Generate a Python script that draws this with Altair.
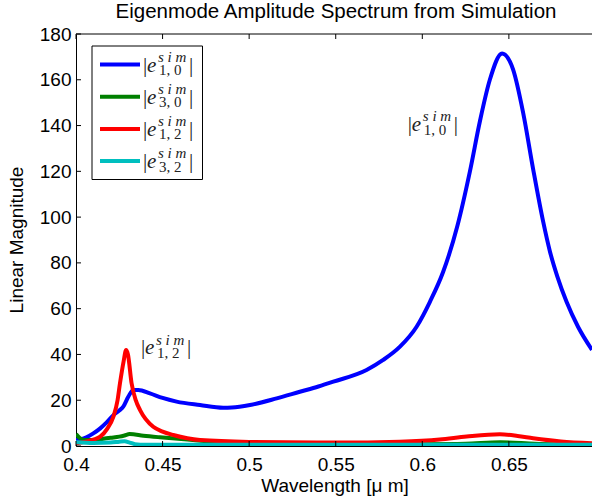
import altair as alt
import pandas as pd

# ---------------- data ----------------
blue_x = [0.400, 0.403, 0.406, 0.410, 0.414, 0.418, 0.4216, 0.425, 0.4273, 0.4302, 0.4331, 0.436,
          0.4427, 0.450, 0.4581, 0.4716, 0.485, 0.490, 0.5005, 0.5159, 0.5293, 0.540, 0.5486,
          0.5678, 0.5774, 0.5871, 0.5967, 0.6044, 0.612, 0.6202, 0.6275, 0.6333, 0.639, 0.6461,
          0.6525, 0.6583, 0.664, 0.6698, 0.6737, 0.678, 0.6833, 0.690, 0.698]
blue_y = [2.6, 3.0, 3.8, 5.5, 7.7, 10.5, 13.5, 15.5, 17.2, 21.5, 24.5, 24.5,
          23.0, 21.0, 19.4, 17.9, 16.7, 16.8, 17.9, 20.8, 23.7, 26.0, 28.1,
          33.2, 37.6, 43.4, 52.1, 63.0, 76.0, 96.0, 120.0, 142.0, 160.0, 171.5,
          164.3, 145.3, 121.0, 98.0, 85.0, 74.0, 63.0, 52.0, 42.0]

green_x = [0.400, 0.402, 0.405, 0.410, 0.415, 0.420, 0.425, 0.428, 0.431, 0.4389, 0.4485,
           0.4676, 0.490, 0.510, 0.550, 0.600, 0.625, 0.645, 0.665, 0.698]
green_y = [5.2, 3.6, 2.6, 2.6, 3.1, 3.6, 4.1, 4.6, 5.2, 4.5, 3.8,
           2.6, 1.3, 0.9, 0.7, 0.8, 1.0, 1.6, 1.0, 0.6]

red_x = [0.400, 0.405, 0.410, 0.414, 0.418, 0.4216, 0.424, 0.4254, 0.4275, 0.4289, 0.4300,
         0.4321, 0.4345, 0.437, 0.4446, 0.450, 0.4562, 0.4716, 0.500, 0.550, 0.587, 0.610,
         0.6256, 0.6448, 0.655, 0.664, 0.680, 0.698]
red_y = [1.2, 1.8, 2.8, 4.1, 7.5, 12.8, 20.0, 27.4, 37.0, 41.9, 40.0,
         27.4, 20.0, 15.7, 8.4, 6.3, 4.8, 2.6, 1.8, 1.5, 1.9, 2.8,
         4.1, 5.1, 4.4, 3.4, 2.0, 1.2]

cyan_x = [0.400, 0.410, 0.420, 0.425, 0.428, 0.431, 0.434, 0.440, 0.500, 0.600, 0.698]
cyan_y = [1.6, 1.3, 1.5, 1.9, 2.1, 1.5, 0.8, 0.5, 0.5, 0.5, 0.5]

series_names = ["1, 0", "3, 0", "1, 2", "3, 2"]
series_colors = ["#0000FF", "#008000", "#FF0000", "#00BFBF"]

x_ticks = [0.4, 0.45, 0.5, 0.55, 0.6, 0.65]
y_ticks = [0, 20, 40, 60, 80, 100, 120, 140, 160, 180]

# annotation anchors (data coordinates) and their subscripts
annot_x = [0.5928, 0.4387]
annot_y = [140.2, 42.6]
annot_sub = ["1, 0", "1, 2"]

title_text = "Eigenmode Amplitude Spectrum from Simulation"
x_title = "Wavelength [\u03bc m]"
y_title = "Linear Magnitude"

# ---------------- layout ----------------
W, H = 516, 412
XDOM = [0.4, 0.698]
YDOM = [0, 180]
SANS = "Liberation Sans"
SERIF = "Liberation Serif"

xscale = alt.Scale(domain=XDOM, nice=False, zero=False)
yscale = alt.Scale(domain=YDOM, nice=False, zero=False)

one = pd.DataFrame({"a": [0]})

x_axis = alt.Axis(values=x_ticks, format="~g", tickSize=0, labelPadding=9, grid=False,
                  domainColor="black", domainWidth=1, labelFont=SANS, labelFontSize=19,
                  labelColor="black", labelFlush=False, labelOverlap=False, title=None)
y_axis = alt.Axis(values=y_ticks, format="d", tickSize=0, labelPadding=5, grid=False,
                  domainColor="black", domainWidth=1, labelFont=SANS, labelFontSize=19,
                  labelColor="black", labelFlush=False, labelOverlap=False, title=None)


def X():
    return alt.X("x:Q", scale=xscale, axis=x_axis)


def Y():
    return alt.Y("y:Q", scale=yscale, axis=y_axis)


layers = []

# series lines
all_series = [(blue_x, blue_y), (green_x, green_y), (red_x, red_y), (cyan_x, cyan_y)]
for (xs, ys), col in zip(all_series, series_colors):
    df = pd.DataFrame({"x": xs, "y": ys})
    layers.append(
        alt.Chart(df).mark_line(color=col, strokeWidth=4, interpolate="monotone",
                                clip=True, strokeJoin="round", strokeCap="butt").encode(x=X(), y=Y())
    )

# inward ticks (bottom, top, left) and top frame
xt = pd.DataFrame({"x": x_ticks})
yt = pd.DataFrame({"y": y_ticks})
layers.append(alt.Chart(xt).mark_rule(color="black", strokeWidth=1).encode(
    x=X(), y=alt.value(H), y2=alt.value(H - 5)))
layers.append(alt.Chart(xt).mark_rule(color="black", strokeWidth=1).encode(
    x=X(), y=alt.value(0), y2=alt.value(5)))
layers.append(alt.Chart(yt).mark_rule(color="black", strokeWidth=1).encode(
    y=Y(), x=alt.value(0), x2=alt.value(5)))
layers.append(alt.Chart(one).mark_rule(color="black", strokeWidth=1).encode(
    x=alt.value(0), x2=alt.value(W), y=alt.value(0)))


def label_pieces(sub):
    # (text, size, style, dx, dy, align)
    return [
        ("|", 21, "normal", 0, 6, "center"),
        ("e", 21, "italic", 2, 6, "left"),
        ("s i m", 15, "italic", 13, -3.7, "left"),
        (sub, 15, "normal", 14, 9.5, "left"),
        ("|", 21, "normal", 46, 6, "center"),
    ]


# annotations in data coordinates
for ax, ay, sub in zip(annot_x, annot_y, annot_sub):
    adf = pd.DataFrame({"x": [ax], "y": [ay]})
    for txt, size, style, dx, dy, align in label_pieces(sub):
        layers.append(alt.Chart(adf).mark_text(
            text=txt, font=SERIF, fontSize=size, fontStyle=style, dx=dx, dy=dy,
            align=align, baseline="alphabetic", color="#222222").encode(x=X(), y=Y()))

# legend (pixel layout)
layers.append(alt.Chart(one).mark_rect(fill="white", stroke="black", strokeWidth=1).encode(
    x=alt.value(16), x2=alt.value(126.5), y=alt.value(12), y2=alt.value(145.5)))
leg_y0, leg_dy = 30.5, 32.2
for k, (name, col) in enumerate(zip(series_names, series_colors)):
    ly = leg_y0 + k * leg_dy
    layers.append(alt.Chart(one).mark_rule(color=col, strokeWidth=4).encode(
        x=alt.value(24), x2=alt.value(64), y=alt.value(ly)))
    for txt, size, style, dx, dy, align in label_pieces(name):
        layers.append(alt.Chart(one).mark_text(
            text=txt, font=SERIF, fontSize=size, fontStyle=style, dx=dx, dy=dy,
            align=align, baseline="alphabetic", color="#222222").encode(
            x=alt.value(69), y=alt.value(ly + 1)))

# titles
layers.append(alt.Chart(one).mark_text(
    text=title_text, font=SANS, fontSize=20.5, align="center", baseline="alphabetic",
    color="black").encode(x=alt.value(260), y=alt.value(-16)))
layers.append(alt.Chart(one).mark_text(
    text=x_title, font=SANS, fontSize=19, align="center", baseline="alphabetic",
    color="black").encode(x=alt.value(259), y=alt.value(458)))
layers.append(alt.Chart(one).mark_text(
    text=y_title, font=SANS, fontSize=19, align="center", baseline="alphabetic",
    angle=270, color="black").encode(x=alt.value(-53), y=alt.value(H / 2)))

chart = alt.layer(*layers).properties(
    width=W, height=H,
    autosize=alt.AutoSizeParams(type="none"),
    padding={"left": 76, "top": 34, "right": 0, "bottom": 53},
    background="white",
).configure_view(stroke=None)

chart.save("out.html", embed_options={"renderer": "svg", "actions": False})
